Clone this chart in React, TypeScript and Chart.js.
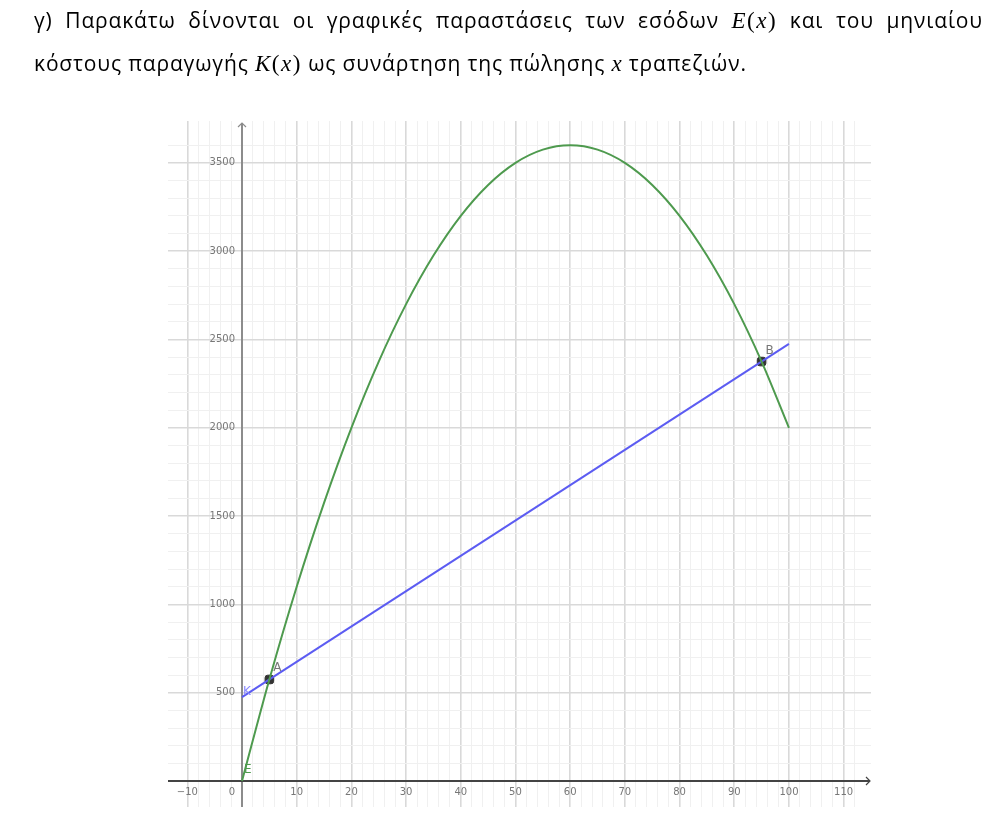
import React, { useEffect, useRef } from "react";
import { Chart, registerables } from "chart.js";

Chart.register(...registerables);

// Revenue E(x) at every 5 units
const revenueX = [0, 5, 10, 15, 20, 25, 30, 35, 40, 45, 50, 55, 60, 65, 70, 75, 80, 85, 90, 95, 100];
const revenueY = [0, 575, 1100, 1575, 2000, 2375, 2700, 2975, 3200, 3375, 3500, 3575, 3600, 3575, 3500, 3375, 3200, 2975, 2700, 2375, 2000];

// Cost K(x): straight line end points
const costX = [0, 100];
const costY = [475, 2475];

// Intersection points
const pointX = [5, 95];
const pointY = [575, 2375];
const pointNames = ["A", "B"];

// Tick labels
const xTickValues = [-10, 0, 10, 20, 30, 40, 50, 60, 70, 80, 90, 100, 110];
const yTickValues = [500, 1000, 1500, 2000, 2500, 3000, 3500];

const GREEN = "#4e9a4e";
const BLUE = "#5c5cf2";

const overlay = {
  id: "overlay",
  beforeDatasetsDraw(chart: any) {
    const ctx = chart.ctx;
    const xs = chart.scales.x;
    const ys = chart.scales.y;
    const area = chart.chartArea;
    const x0 = xs.getPixelForValue(0);
    const y0 = ys.getPixelForValue(0);
    ctx.save();
    // y axis
    ctx.strokeStyle = "#8c8c8c";
    ctx.lineWidth = 2;
    ctx.beginPath();
    ctx.moveTo(x0, area.bottom);
    ctx.lineTo(x0, area.top + 2);
    ctx.stroke();
    ctx.lineWidth = 1.2;
    ctx.beginPath();
    ctx.moveTo(x0 - 4, area.top + 6);
    ctx.lineTo(x0, area.top + 2);
    ctx.lineTo(x0 + 4, area.top + 6);
    ctx.stroke();
    // x axis
    ctx.strokeStyle = "#444";
    ctx.lineWidth = 2;
    ctx.beginPath();
    ctx.moveTo(area.left, y0);
    ctx.lineTo(area.right - 1, y0);
    ctx.stroke();
    ctx.lineWidth = 1.2;
    ctx.beginPath();
    ctx.moveTo(area.right - 5, y0 - 4);
    ctx.lineTo(area.right - 1, y0);
    ctx.lineTo(area.right - 5, y0 + 4);
    ctx.stroke();
    // tick labels
    ctx.fillStyle = "#777";
    ctx.font = "10px 'DejaVu Sans', sans-serif";
    ctx.textBaseline = "middle";
    ctx.textAlign = "center";
    xTickValues.forEach((v) => {
      const px = xs.getPixelForValue(v);
      const label = v < 0 ? "\u2212" + Math.abs(v) : String(v);
      ctx.fillText(label, v === 0 ? px - 10 : px, y0 + 11);
    });
    ctx.textAlign = "right";
    yTickValues.forEach((v) => {
      ctx.fillText(String(v), x0 - 7, ys.getPixelForValue(v));
    });
    ctx.restore();
  },
  afterDatasetsDraw(chart: any) {
    const ctx = chart.ctx;
    const xs = chart.scales.x;
    const ys = chart.scales.y;
    ctx.save();
    ctx.font = "12px 'DejaVu Sans', sans-serif";
    ctx.textBaseline = "alphabetic";
    ctx.textAlign = "left";
    ctx.fillStyle = "#777";
    pointNames.forEach((n, i) => {
      const px = xs.getPixelForValue(pointX[i]);
      const py = ys.getPixelForValue(pointY[i]);
      ctx.fillText(n, px + 4, py - 8);
    });
    ctx.fillStyle = "#8a8aff";
    ctx.fillText("K", xs.getPixelForValue(0) + 1, ys.getPixelForValue(475) - 2);
    ctx.fillStyle = GREEN;
    ctx.fillText("E", xs.getPixelForValue(0) + 2, ys.getPixelForValue(0) - 8);
    ctx.restore();
  },
};

export default function App() {
  const ref = useRef<HTMLCanvasElement>(null);
  useEffect(() => {
    if (!ref.current) return;
    const chart = new Chart(ref.current, {
      type: "scatter",
      data: {
        datasets: [
          {
            label: "E(x)",
            data: revenueX.map((x, i) => ({ x, y: revenueY[i] })),
            showLine: true,
            borderColor: GREEN,
            borderWidth: 2,
            pointRadius: 0,
            cubicInterpolationMode: "monotone",
          },
          {
            label: "K(x)",
            data: costX.map((x, i) => ({ x, y: costY[i] })),
            showLine: true,
            borderColor: BLUE,
            borderWidth: 2,
            pointRadius: 0,
          },
          {
            label: "points",
            data: pointX.map((x, i) => ({ x, y: pointY[i] })),
            showLine: false,
            pointStyle: "rectRounded",
            pointRadius: 5,
            backgroundColor: "#333",
            borderColor: "#333",
            borderWidth: 1,
          },
        ],
      },
      options: {
        responsive: false,
        animation: false,
        layout: { padding: { left: 168, right: 136, top: 121, bottom: 11 } },
        plugins: { legend: { display: false }, tooltip: { enabled: false } },
        scales: {
          x: {
            type: "linear",
            min: -13.53,
            max: 115,
            ticks: { display: false, stepSize: 2 },
            afterBuildTicks: (s: any) => {
              s.ticks = s.ticks.filter((t: any) => Math.abs(t.value % 2) < 1e-6 && t.value !== 0);
            },
            grid: {
              drawTicks: false,
              color: (c: any) => (c.tick && c.tick.value % 10 === 0 ? "#d9d9d9" : "#f0f0f0"),
              lineWidth: (c: any) => (c.tick && c.tick.value % 10 === 0 ? 1.6 : 1),
            },
            border: { display: false },
          },
          y: {
            type: "linear",
            min: -147,
            max: 3737,
            ticks: { display: false, stepSize: 100 },
            afterBuildTicks: (s: any) => {
              s.ticks = s.ticks.filter((t: any) => Math.abs(t.value % 100) < 1e-6 && t.value !== 0);
            },
            grid: {
              drawTicks: false,
              color: (c: any) => (c.tick && c.tick.value % 500 === 0 ? "#d9d9d9" : "#f0f0f0"),
              lineWidth: (c: any) => (c.tick && c.tick.value % 500 === 0 ? 1.6 : 1),
            },
            border: { display: false },
          },
        },
      },
      plugins: [overlay],
    } as any);
    return () => chart.destroy();
  }, []);

  const textFont = "'Open Sans', 'Noto Sans', sans-serif";
  const mathFont = "'Liberation Serif', 'DejaVu Serif', serif";
  const common = {
    position: "absolute" as const,
    left: 34,
    fontFamily: textFont,
    fontSize: 21,
    letterSpacing: "0.85px",
    lineHeight: "28px",
    color: "#000",
    whiteSpace: "nowrap" as const,
  };
  return (
    <div style={{ position: "absolute", left: 0, top: 0, width: 1007, height: 818, background: "#fff" }}>
      <canvas ref={ref} width={1007} height={818} style={{ position: "absolute", left: 0, top: 0, width: 1007, height: 818 }} />
      <div style={{ ...common, top: 6, width: 949, textAlign: "justify", textAlignLast: "justify" }}>
        γ) Παρακάτω δίνονται οι γραφικές παραστάσεις των εσόδων{" "}
        <span style={{ fontFamily: mathFont, fontSize: 23, letterSpacing: "1.5px" }}>
          <i>E</i>(<i>x</i>)
        </span>{" "}
        και του μηνιαίου
      </div>
      <div style={{ ...common, top: 49 }}>
        κόστους παραγωγής{" "}
        <span style={{ fontFamily: mathFont, fontSize: 23, letterSpacing: "1.5px" }}>
          <i>K</i>(<i>x</i>)
        </span>{" "}
        ως συνάρτηση της πώλησης <span style={{ fontFamily: mathFont, fontSize: 23 }}><i>x</i></span> τραπεζιών.
      </div>
    </div>
  );
}
